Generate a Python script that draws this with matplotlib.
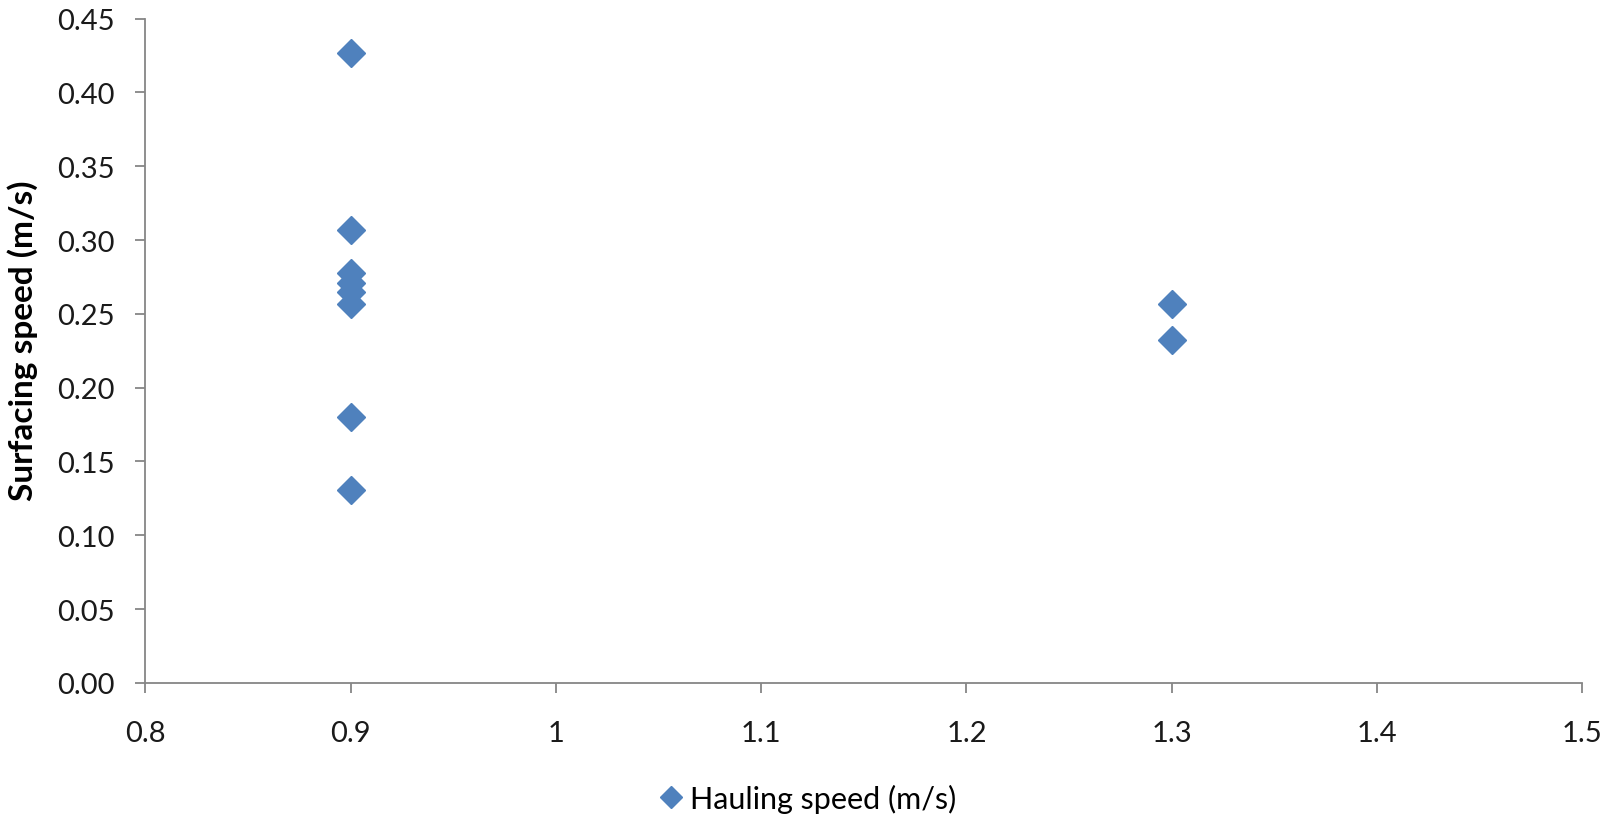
import numpy as np
import matplotlib
matplotlib.use("Agg")
from matplotlib import pyplot as plt
from matplotlib.ticker import FuncFormatter, MultipleLocator

# values
hauling_speed = [0.9, 0.9, 0.9, 0.9, 0.9, 0.9, 0.9, 0.9, 1.3, 1.3]
surfacing_speed = [0.427, 0.307, 0.278, 0.271, 0.265, 0.257, 0.180, 0.131, 0.257, 0.232]
series_name = "Hauling speed (m/s)"

plt.rcParams['font.family'] = ['Lato', 'DejaVu Sans']
axis_grey = '#868686'
blue = '#4F81BD'

fig = plt.figure(figsize=(16.18, 8.2), dpi=100)
ax = fig.add_axes([0.0899, 0.166, 0.888, 0.810])

ax.plot(hauling_speed, surfacing_speed, linestyle='none', marker='D',
        markersize=14.5, color=blue, label=series_name, clip_on=False)

ax.set_xlim(0.8, 1.5)
ax.set_ylim(0.0, 0.45)
ax.xaxis.set_major_locator(MultipleLocator(0.1))
ax.yaxis.set_major_locator(MultipleLocator(0.05))
ax.xaxis.set_major_formatter(FuncFormatter(lambda v, p: f"{round(v, 2):g}"))
ax.yaxis.set_major_formatter(FuncFormatter(lambda v, p: f"{v:.2f}"))

for side in ['top', 'right']:
    ax.spines[side].set_visible(False)
for side in ['left', 'bottom']:
    ax.spines[side].set_color(axis_grey)
    ax.spines[side].set_linewidth(1.3)

ax.tick_params(axis='both', direction='out', length=7, width=1.3, color=axis_grey,
               labelsize=21, labelcolor='#1a1a1a')
ax.tick_params(axis='x', pad=20)
ax.tick_params(axis='y', pad=15)

ax.set_ylabel("Surfacing speed (m/s)", fontsize=24, fontweight='bold')
ax.yaxis.set_label_coords(-0.075, 0.517)

fig.legend(loc='center', bbox_to_anchor=(0.5, 0.025), frameon=False,
           fontsize=22, handlelength=0.6, handletextpad=0.3, markerscale=0.75)

fig.savefig("out.png", dpi=100)
plt.close(fig)
